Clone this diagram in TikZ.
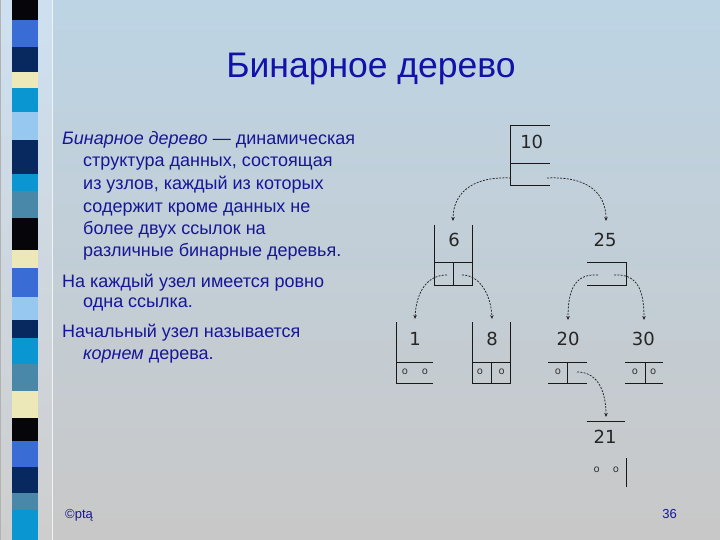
\documentclass[tikz,border=0pt]{standalone}
\usepackage{fontspec}
\setmainfont{Liberation Sans}
\newfontfamily\numfont{DejaVu Sans}
\usetikzlibrary{arrows.meta}
\definecolor{bgtop}{RGB}{189,212,228}
\definecolor{bgbot}{RGB}{200,200,200}
\definecolor{striptop}{RGB}{206,224,240}
\definecolor{stripbot}{RGB}{206,206,206}
\definecolor{txtblue}{RGB}{22,22,150}
\definecolor{ttlblue}{RGB}{18,18,170}
\definecolor{cBlack}{RGB}{5,5,10}
\definecolor{cRoyal}{RGB}{58,108,214}
\definecolor{cNavy}{RGB}{8,40,96}
\definecolor{cCream}{RGB}{236,232,184}
\definecolor{cCyan}{RGB}{10,150,208}
\definecolor{cLight}{RGB}{150,200,240}
\definecolor{cSteel}{RGB}{74,136,170}
\tikzset{
  body/.style={anchor=base west,inner sep=0pt,text=txtblue,font=\fontsize{18}{21}\selectfont},
  num/.style={inner sep=0pt,font=\numfont\fontsize{18}{20}\selectfont,text=black!85},
  nul/.style={inner sep=0pt,font=\numfont\fontsize{10}{11}\selectfont,text=black!80},
  boxline/.style={line width=1pt,black!90},
  ptr/.style={line width=0.75pt,black!85,dash pattern=on 2pt off 1.3pt,-{Stealth[length=4pt,width=3.5pt]}}
}
\begin{document}
\begin{tikzpicture}[x=1pt,y=-1pt]
\useasboundingbox (0,0) rectangle (720,540);
\shade[top color=bgtop,bottom color=bgbot] (0,0) rectangle (720,540);
% left strip
\shade[top color=striptop,bottom color=stripbot] (0,0) rectangle (52,540);
\draw[line width=1pt,black!30] (0.5,0) -- (0.5,540);
\draw[line width=1.4pt,white!90!gray] (52.5,0) -- (52.5,540);
\foreach \a/\b/\c in {0/20/cBlack,20/47/cRoyal,47/72/cNavy,72/88/cCream,88/112/cCyan,
  112/140/cLight,140/174/cNavy,174/191/cCyan,191/218/cSteel,218/250/cBlack,250/268/cCream,
  268/297/cRoyal,297/320/cLight,320/338/cNavy,338/364/cCyan,364/391/cSteel,391/418/cCream,
  418/441/cBlack,441/467/cRoyal,467/493/cNavy,493/510/cSteel,510/540/cCyan}
  \fill[\c] (12,\a) rectangle (38,\b);
% title
\node[anchor=base,inner sep=0pt,text=ttlblue,font=\fontsize{35.5}{40}\selectfont] (title) at (371,78) {Бинарное дерево};
% body text
\node[body] (l1) at (62,145) {\itshape Бинарное дерево\upshape{} — динамическая};
\node[body] (l2) at (83,167) {структура данных, состоящая};
\node[body] (l3) at (83,190) {из узлов, каждый из которых};
\node[body] (l4) at (83,212) {содержит кроме данных не};
\node[body] (l5) at (83,234) {более двух ссылок на};
\node[body] (l6) at (83,256) {различные бинарные деревья.};
\node[body] (l7) at (62,287) {На каждый узел имеется ровно};
\node[body] (l8) at (83,307) {одна ссылка.};
\node[body] (l9) at (62,337) {Начальный узел называется};
\node[body] (l10) at (83,359) {\itshape корнем\upshape{} дерева.};
% footer
\node[anchor=base west,inner sep=0pt,text=txtblue,font=\fontsize{13}{14}\selectfont] (copy) at (65,518) {©ptą};
\node[anchor=base east,inner sep=0pt,text=txtblue,font=\fontsize{13}{14}\selectfont] (page) at (677,518) {36};
% boxes
\draw[boxline] (550,126) -- (510.7,126) -- (510.7,186) -- (550,186) (510.7,164) -- (550,164);
\draw[boxline] (434.5,225) -- (434.5,285) -- (472.7,285) -- (472.7,225) (434.5,262.3) -- (472.7,262.3) (453.3,262.3) -- (453.3,285);
\draw[boxline] (587,262.3) -- (626,262.3) -- (626,285) -- (587,285);
\draw[boxline] (396.7,322) -- (396.7,383) -- (433.3,383) (396.7,362) -- (433.3,362);
\draw[boxline] (472.7,322) -- (472.7,383) -- (510,383) -- (510,322) (472.7,362) -- (510,362) (491.7,362) -- (491.7,383);
\draw[boxline] (548.3,362) -- (586.7,362) (548.3,383) -- (586.7,383) (567.3,362) -- (567.3,383);
\draw[boxline] (625,362) -- (663.3,362) (625,383) -- (663.3,383) (645,362) -- (645,383);
\draw[boxline] (586.7,421.7) -- (625,421.7) (626,458) -- (626,487);
% numbers
\node[num] (n10) at (531.7,141.7) {10};
\node[num] (n6) at (454,240) {6};
\node[num] (n25) at (605,240) {25};
\node[num] (n1) at (415,339) {1};
\node[num] (n8) at (492,339) {8};
\node[num] (n20) at (568,339) {20};
\node[num] (n30) at (643.3,339) {30};
\node[num] (n21) at (605,436.7) {21};
% null markers
\node[nul] (o1a) at (405,372) {o};
\node[nul] (o1b) at (425,372) {o};
\node[nul] (o8a) at (480,372) {o};
\node[nul] (o8b) at (501.7,372) {o};
\node[nul] (o20a) at (558,372) {o};
\node[nul] (o30a) at (635,372) {o};
\node[nul] (o30b) at (653.3,372) {o};
\node[nul] (o21a) at (596.7,470) {o};
\node[nul] (o21b) at (616,470) {o};
% pointer coordinates
\coordinate (s10l) at (511,178);
\coordinate (s10r) at (547,178);
\coordinate (s6l) at (447,275);
\coordinate (s6r) at (462,275);
\coordinate (s25l) at (598,275);
\coordinate (s25r) at (614,275);
\coordinate (s20r) at (577,372);
\coordinate (t6) at (453,221);
\coordinate (t25) at (606,221);
\coordinate (t1) at (415,319);
\coordinate (t8) at (492,319);
\coordinate (t20) at (568,320);
\coordinate (t30) at (644,320);
\coordinate (t21) at (606,417);
% connectors
\draw[ptr] (s10l) .. controls (470,176) and (453,195) .. (t6);
\draw[ptr] (s10r) .. controls (590,176) and (606,195) .. (t25);
\draw[ptr] (s6l) .. controls (425,275) and (416,295) .. (t1);
\draw[ptr] (s6r) .. controls (480,275) and (491,295) .. (t8);
\draw[ptr] (s25l) .. controls (572,273) and (568,295) .. (t20);
\draw[ptr] (s25r) .. controls (640,273) and (644,295) .. (t30);
\draw[ptr] (s20r) .. controls (600,372) and (606,395) .. (t21);
\end{tikzpicture}
\end{document}
